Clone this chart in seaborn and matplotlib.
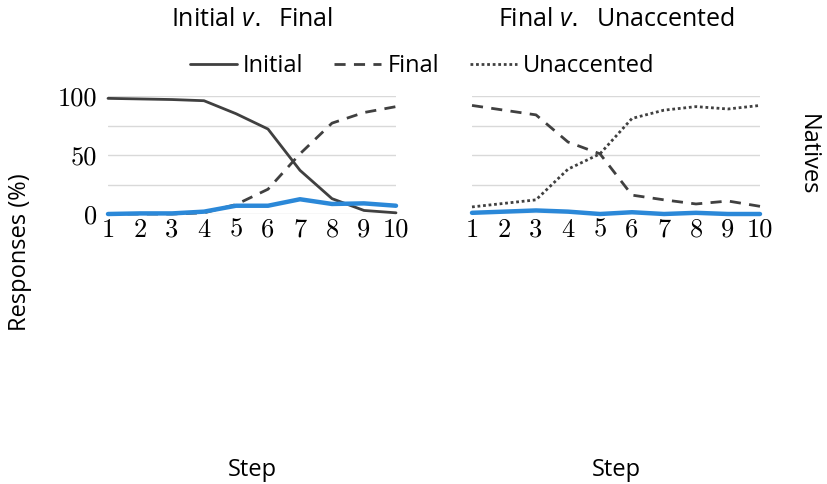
import matplotlib
matplotlib.use("Agg")
import matplotlib.pyplot as plt
import seaborn as sns
import pandas as pd
from matplotlib.lines import Line2D

steps = list(range(1, 11))

# Panel 1: Initial v. Final
left_initial = [98, 97.5, 97, 96, 85, 72, 37, 13, 3, 1]
left_final = [0, 0, 0, 1, 8, 21, 51, 77, 86, 91]
left_other = [0, 0.5, 0.5, 2, 7, 7, 12.5, 8.5, 9, 7]

# Panel 2: Final v. Unaccented
right_final = [92, 88, 84, 61, 51, 16, 12, 8.5, 11, 6.5]
right_unaccented = [6, 9, 12, 38, 51, 81, 88, 91, 89, 92]
right_other = [1, 2, 3, 2, 0, 1.5, 0, 1, 0, 0]

panel_titles = ["Initial $\\it{v.}$  Final", "Final $\\it{v.}$  Unaccented"]
y_tick_labels = ["0", "", "50", "", "100"]
legend_labels = ["Initial", "Final", "Unaccented"]

sns.set_theme(style="white")
plt.rcParams["font.family"] = ["Open Sans", "DejaVu Sans"]
plt.rcParams["mathtext.fontset"] = "custom"
plt.rcParams["mathtext.it"] = "Open Sans:italic"
plt.rcParams["text.color"] = "black"
plt.rcParams["xtick.color"] = "black"
plt.rcParams["ytick.color"] = "black"

DARK = "#404040"
BLUE = "#2b88d8"
GRID = "#d9d9d9"

fig = plt.figure(figsize=(8.28, 4.84), dpi=100)
ax1 = fig.add_axes([108 / 828, 1 - 214 / 484, 288 / 828, 118 / 484])
ax2 = fig.add_axes([472 / 828, 1 - 214 / 484, 288 / 828, 118 / 484])

df1 = pd.DataFrame({"step": steps, "initial": left_initial,
                    "final": left_final, "other": left_other})
df2 = pd.DataFrame({"step": steps, "final": right_final,
                    "unaccented": right_unaccented, "other": right_other})

# Left panel lines
sns.lineplot(data=df1, x="step", y="final", ax=ax1, color=DARK, lw=2,
             linestyle=(0, (4, 3)))
sns.lineplot(data=df1, x="step", y="initial", ax=ax1, color=DARK, lw=2)
sns.lineplot(data=df1, x="step", y="other", ax=ax1, color=BLUE, lw=3.2)

# Right panel lines
sns.lineplot(data=df2, x="step", y="final", ax=ax2, color=DARK, lw=2,
             linestyle=(0, (4, 3)))
sns.lineplot(data=df2, x="step", y="unaccented", ax=ax2, color=DARK, lw=2,
             linestyle=(0, (1, 1)))
sns.lineplot(data=df2, x="step", y="other", ax=ax2, color=BLUE, lw=3.2)

title_y = (1 - 20 / 484 - (1 - 214 / 484)) / (118 / 484)
for i, (ax, title) in enumerate(zip([ax1, ax2], panel_titles)):
    ax.set_xlim(1, 10)
    ax.set_ylim(0, 100)
    ax.set_xticks(steps)
    ax.set_yticks([0, 25, 50, 75, 100])
    ax.yaxis.grid(True, color=GRID, lw=1)
    ax.set_axisbelow(True)
    for s in ax.spines.values():
        s.set_visible(False)
    for ln in ax.get_lines():
        ln.set_clip_on(False)
    ax.set_xlabel("")
    ax.set_ylabel("")
    ax.tick_params(axis="both", length=0, pad=3)
    ax.set_xticklabels([str(s) for s in steps], family="cmr10", fontsize=19)
    if i == 0:
        ax.set_yticklabels(y_tick_labels, family="cmr10", fontsize=19)
        ax.tick_params(axis="y", pad=8)
    else:
        ax.set_yticklabels([])
    ax.set_title(title, fontsize=18, pad=0, y=title_y, va="center")

handles = [Line2D([], [], color=DARK, lw=2),
           Line2D([], [], color=DARK, lw=2, linestyle=(0, (4, 3))),
           Line2D([], [], color=DARK, lw=2, linestyle=(0, (1, 1)))]
fig.legend(handles, legend_labels, loc="center", bbox_to_anchor=(422 / 828, 1 - 66 / 484),
           ncol=3, frameon=False, fontsize=17, handlelength=2.0, handletextpad=0.25,
           columnspacing=1.3)

fig.text(20 / 828, 1 - 252 / 484, "Responses (%)", rotation=90, ha="center",
         va="center", fontsize=17)
fig.text(808 / 828, 1 - 155 / 484, "Natives", rotation=-90, ha="center",
         va="center", fontsize=17)
fig.text(252 / 828, 1 - 470 / 484, "Step", ha="center", va="center", fontsize=17)
fig.text(616 / 828, 1 - 470 / 484, "Step", ha="center", va="center", fontsize=17)

fig.savefig("out.png", dpi=100, facecolor="white")
